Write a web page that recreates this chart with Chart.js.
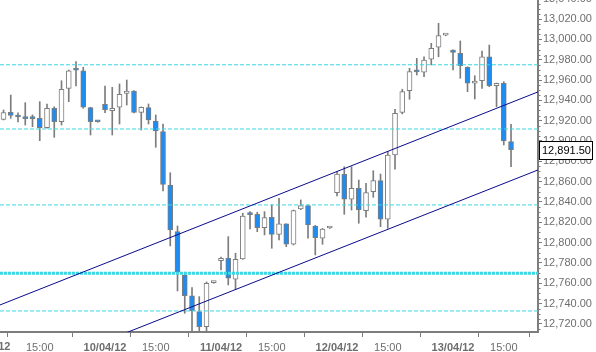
<!DOCTYPE html>
<html>
<head>
<meta charset="utf-8">
<script src="https://cdn.jsdelivr.net/npm/chart.js@4.4.1/dist/chart.umd.min.js"></script>
<style>html,body{margin:0;padding:0;background:#fff}canvas{display:block}</style>
</head>
<body>
<canvas id="c" width="596" height="352"></canvas>
<script>
// Hourly candles, 16 slots per trading day starting 08:00; slot 0 = 09/04/12 08:00
const firstSlot = 2;
const opens = [12921.3, 12928.2, 12924.4, 12922.6, 12922.6, 12922.3, 12913.1, 12932.2, 12919.0, 12951.8,
  12970.2, 12968.9, 12932.8, 12919.4, 12936.1, 12929.8, 12933.2, 12946.9, 12949.2, 12928.2,
  12932.8, 12919.7, 12909.2, 12856.7, 12810.8, 12768.2, 12747.6, 12732.1, 12717.4, 12760.6,
  12782.3, 12784.6, 12764.0, 12783.9, 12827.9, 12827.9, 12814.7, 12825.0, 12808.2, 12818.4,
  12798.4, 12833.1, 12836.4, 12816.4, 12804.3, 12814.4, 12849.2, 12867.3, 12842.7, 12853.5,
  12831.5, 12850.1, 12861.0, 12823.0, 12886.2, 12928.2, 12949.5, 12968.4, 12967.6, 12980.4,
  12992.2, 13004.2, 12989.5, 12986.3, 12972.5, 12956.8, 12959.3, 12982.9, 12954.4, 12956.8,
  12899.3];
const highs = [12930.5, 12945.2, 12927.8, 12937.7, 12925.6, 12938.7, 12936.4, 12933.7, 12959.3, 12969.8,
  12978.0, 12972.5, 12933.2, 12919.8, 12954.1, 12952.8, 12956.1, 12960.0, 12949.6, 12933.5,
  12936.4, 12925.6, 12916.7, 12868.8, 12816.4, 12770.9, 12755.9, 12746.9, 12761.3, 12762.0,
  12785.9, 12805.9, 12789.6, 12828.9, 12830.5, 12829.9, 12830.5, 12837.1, 12843.6, 12818.6,
  12832.1, 12842.0, 12837.0, 12817.0, 12814.0, 12815.5, 12869.8, 12874.7, 12874.7, 12861.6,
  12858.4, 12870.8, 12867.5, 12889.5, 12931.2, 12950.9, 12971.5, 12981.3, 12982.9, 12996.1,
  13015.8, 13005.0, 12989.8, 12998.4, 12973.0, 12964.2, 12988.5, 12994.4, 12957.0, 12958.3,
  12916.4];
const lows = [12920.7, 12922.3, 12918.7, 12915.7, 12914.1, 12900.3, 12912.5, 12903.6, 12915.7, 12938.7,
  12954.1, 12932.2, 12905.9, 12918.5, 12927.8, 12905.9, 12916.7, 12935.4, 12927.5, 12910.8,
  12916.7, 12893.8, 12850.8, 12796.7, 12752.5, 12730.5, 12713.0, 12712.5, 12713.0, 12760.0,
  12773.1, 12758.4, 12754.1, 12783.5, 12813.4, 12810.8, 12807.6, 12794.5, 12802.6, 12796.0,
  12797.7, 12832.5, 12804.3, 12787.9, 12798.4, 12814.0, 12845.9, 12827.9, 12832.1, 12819.1,
  12825.0, 12844.6, 12815.7, 12814.1, 12872.2, 12926.6, 12941.0, 12964.9, 12963.2, 12974.8,
  12982.9, 13003.5, 12969.8, 12961.7, 12948.5, 12941.3, 12951.8, 12953.4, 12933.7, 12896.1,
  12874.7];
const closes = [12928.0, 12925.1, 12923.6, 12922.0, 12922.0, 12913.1, 12932.2, 12919.0, 12950.9, 12968.9,
  12969.6, 12933.2, 12919.0, 12918.9, 12930.5, 12932.2, 12945.9, 12949.2, 12928.0, 12933.2,
  12920.7, 12909.8, 12857.4, 12812.5, 12770.9, 12747.8, 12733.1, 12717.4, 12760.0, 12761.0,
  12784.6, 12765.0, 12783.6, 12826.2, 12827.5, 12814.7, 12824.6, 12808.2, 12818.4, 12798.4,
  12831.5, 12836.4, 12817.4, 12804.9, 12813.4, 12815.0, 12867.5, 12842.7, 12853.5, 12832.1,
  12849.2, 12861.0, 12823.0, 12886.2, 12927.3, 12948.5, 12968.2, 12968.0, 12979.7, 12991.2,
  13003.6, 13004.6, 12987.2, 12974.1, 12956.8, 12959.0, 12982.9, 12954.4, 12956.8, 12900.0,
  12891.5];

// horizontal levels
const levels = [12975.0, 12911.8, 12837.1, 12732.8];
const keyLevel = [12769.9];
// trend channel (slot, price)
const channelSlots = [1.517, 75.72];
const channelUpper = [12738.7, 12948.3];
const channelLower = [12662.3, 12871.5];

// axes
const xTickValues = [0, 7, 16, 23, 32, 39, 48, 55, 64, 71];
const xTickLabels = ['09/04/12', '15:00', '10/04/12', '15:00', '11/04/12', '15:00', '12/04/12', '15:00', '13/04/12', '15:00'];
const yTickValues = [12720, 12740, 12760, 12780, 12800, 12820, 12840, 12860, 12880, 12900,
  12920, 12940, 12960, 12980, 13000, 13020, 13040];
const xRange = [1.517, 75.72];
const yRange = [12712.1, 13038.7];

const GREY = '#7d7d7d';
const BLUE = '#1e8cf0';
const CYAN = '#3ad8e4';
const NAVY = '#0a0a8c';
const FONT = 'Liberation Sans, Arial, sans-serif';

const fmt = v => v.toLocaleString('en-US', {minimumFractionDigits: 2, maximumFractionDigits: 2});
const isDate = s => s.indexOf('/') >= 0;

const bodies = opens.map((o, i) => ({x: firstSlot + i, y: [o, closes[i]]}));
const wicks = lows.map((l, i) => ({x: firstSlot + i, y: [l, highs[i]]}));
const bodyColors = opens.map((o, i) => closes[i] >= o ? '#ffffff' : BLUE);

const datasets = [];
datasets.push({type: 'line', data: channelSlots.map((s, i) => ({x: s, y: channelUpper[i]})),
  borderColor: NAVY, borderWidth: 1, pointRadius: 0, clip: 0, order: 0});
datasets.push({type: 'line', data: channelSlots.map((s, i) => ({x: s, y: channelLower[i]})),
  borderColor: NAVY, borderWidth: 1, pointRadius: 0, clip: 0, order: 0});
levels.forEach(l => datasets.push({type: 'line', data: xRange.map(x => ({x, y: l})),
  borderColor: CYAN, borderWidth: 1, borderDash: [4, 2], pointRadius: 0, clip: 0, order: 1}));
keyLevel.forEach(l => datasets.push({type: 'line', data: xRange.map(x => ({x, y: l})),
  borderColor: CYAN, borderWidth: 3, borderDash: [3, 1], pointRadius: 0, clip: 0, order: 1}));
datasets.push({type: 'bar', data: bodies, backgroundColor: bodyColors, borderColor: GREY, borderWidth: 1,
  borderSkipped: false, barThickness: 5, minBarLength: 2, grouped: false, order: 2});
datasets.push({type: 'bar', data: wicks, backgroundColor: GREY, borderWidth: 0,
  barThickness: 1, grouped: false, order: 3});

const extras = {
  id: 'extras',
  afterDraw(chart) {
    const ctx = chart.ctx, xs = chart.scales.x, ys = chart.scales.y, ca = chart.chartArea;
    ctx.save();
    // minor ticks on price axis
    ctx.strokeStyle = GREY; ctx.lineWidth = 1;
    for (let v = Math.ceil(yRange[0] / 5) * 5; v <= yRange[1]; v += 5) {
      if (v % 20 === 0) continue;
      const py = Math.round(ys.getPixelForValue(v)) + 0.5;
      ctx.beginPath(); ctx.moveTo(ca.right, py); ctx.lineTo(ca.right + 2.5, py); ctx.stroke();
    }
    // cut-off labels outside the visible range
    ctx.fillStyle = '#6e6e6e';
    ctx.textBaseline = 'middle';
    xTickValues.forEach((v, i) => {
      if (v >= xRange[0] && v <= xRange[1]) return;
      ctx.font = (isDate(xTickLabels[i]) ? 'bold ' : '') + '11px ' + FONT;
      ctx.textAlign = 'center';
      ctx.fillText(xTickLabels[i], xs.getPixelForValue(v), ca.bottom + 15);
    });
    yTickValues.forEach(v => {
      if (v >= yRange[0] && v <= yRange[1]) return;
      ctx.font = '11px ' + FONT; ctx.textAlign = 'left';
      ctx.fillText(fmt(v), ca.right + 5, ys.getPixelForValue(v));
    });
    // last price box
    const last = closes[closes.length - 1];
    const py = Math.round(ys.getPixelForValue(last));
    ctx.fillStyle = '#ffffff'; ctx.fillRect(ca.right + 1, py - 9, 54, 18);
    ctx.strokeStyle = '#000000'; ctx.lineWidth = 1;
    ctx.strokeRect(ca.right + 1.5, py - 8.5, 53, 18);
    ctx.fillStyle = '#000000'; ctx.font = '11px ' + FONT; ctx.textAlign = 'left';
    ctx.fillText(fmt(last), ca.right + 4, py + 0.5);
    ctx.restore();
  }
};

new Chart(document.getElementById('c'), {
  type: 'bar',
  data: {datasets},
  options: {
    responsive: false, animation: false, devicePixelRatio: 1,
    layout: {padding: 0},
    plugins: {legend: {display: false}, tooltip: {enabled: false}},
    scales: {
      x: {
        type: 'linear', min: xRange[0], max: xRange[1], offset: false,
        afterBuildTicks: s => { s.ticks = xTickValues.filter(v => v >= xRange[0] && v <= xRange[1]).map(v => ({value: v})); },
        afterFit: s => { s.height = 20; s.paddingLeft = 0; s.paddingRight = 0; },
        grid: {drawOnChartArea: false, drawTicks: true, tickLength: 5, tickColor: GREY},
        border: {display: true, color: GREY, width: 2},
        ticks: {
          autoSkip: false, maxRotation: 0, padding: 4,
          callback: v => xTickLabels[xTickValues.indexOf(v)],
          color: '#6e6e6e',
          font: c => ({family: FONT, size: 11, weight: (c.tick && isDate(xTickLabels[xTickValues.indexOf(c.tick.value)] || '')) ? 'bold' : 'normal'})
        }
      },
      y: {
        type: 'linear', position: 'right', min: yRange[0], max: yRange[1],
        afterBuildTicks: s => { s.ticks = yTickValues.filter(v => v >= yRange[0] && v <= yRange[1]).map(v => ({value: v})); },
        afterFit: s => { s.width = 58; s.paddingTop = 0; s.paddingBottom = 0; },
        grid: {drawOnChartArea: false, drawTicks: true, tickLength: 4, tickColor: GREY},
        border: {display: true, color: GREY, width: 2},
        ticks: {autoSkip: false, padding: 1, color: '#6e6e6e', font: {family: FONT, size: 11},
          callback: v => fmt(v)}
      }
    }
  },
  plugins: [extras]
});
</script>
</body>
</html>
